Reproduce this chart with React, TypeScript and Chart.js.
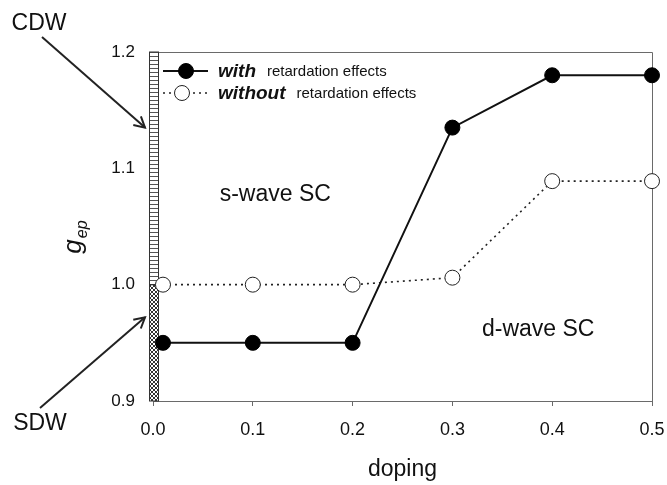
import React, { useEffect, useRef } from "react";
import { Chart, registerables } from "chart.js";
Chart.register(...registerables);

const doping = [0.01, 0.1, 0.2, 0.3, 0.4, 0.5];
const gWith = [0.95, 0.95, 0.95, 1.135, 1.18, 1.18];
const gWithout = [1.0, 1.0, 1.0, 1.006, 1.089, 1.089];
const xRange = [0, 0.5];
const yRange = [0.9, 1.2];
const seriesNames = ["with", "without"];
const seriesSuffix = "retardation effects";
const xTitle = "doping";
const yTitleMain = "g";
const yTitleSub = "ep";
const regionLabels = [
  { text: "s-wave SC", x: 0.1225, y: 1.077 },
  { text: "d-wave SC", x: 0.386, y: 0.961 },
];
const sdwBand = [0.9, 1.0];
const cdwBand = [1.0, 1.2];
const cdwTarget = 1.135;
const sdwTarget = 0.972;

const FONT = "'Liberation Sans', Arial, sans-serif";

function drawArrow(ctx: CanvasRenderingContext2D, x1: number, y1: number, x2: number, y2: number) {
  ctx.beginPath();
  ctx.moveTo(x1, y1);
  ctx.lineTo(x2, y2);
  ctx.stroke();
  const a = Math.atan2(y2 - y1, x2 - x1);
  const L = 12;
  const s = 0.5;
  ctx.beginPath();
  ctx.moveTo(x2 - L * Math.cos(a - s), y2 - L * Math.sin(a - s));
  ctx.lineTo(x2, y2);
  ctx.lineTo(x2 - L * Math.cos(a + s), y2 - L * Math.sin(a + s));
  ctx.stroke();
}

const decorPlugin = {
  id: "decor",
  beforeDatasetsDraw(chart: any) {
    const { ctx, chartArea } = chart;
    const ys = chart.scales.y;
    ctx.save();
    ctx.strokeStyle = "#6a6a6a";
    ctx.lineWidth = 1;
    ctx.beginPath();
    ctx.moveTo(chartArea.left, chartArea.top + 0.5);
    ctx.lineTo(chartArea.right + 0.5, chartArea.top + 0.5);
    ctx.lineTo(chartArea.right + 0.5, chartArea.bottom);
    ctx.stroke();

    const xA = chartArea.left;
    const bx = Math.round(xA - 4) + 0.5;
    const bw = 9;
    const yT = ys.getPixelForValue(cdwBand[1]);
    const yM = ys.getPixelForValue(cdwBand[0]);
    const yB = ys.getPixelForValue(sdwBand[0]);
    ctx.fillStyle = "#fff";
    ctx.fillRect(bx, yT, bw, yB - yT);
    ctx.strokeStyle = "#555";
    ctx.lineWidth = 1;
    ctx.beginPath();
    for (let y = Math.round(yT) + 0.5; y < yM; y += 4) {
      ctx.moveTo(bx, y);
      ctx.lineTo(bx + bw, y);
    }
    ctx.stroke();
    const p = document.createElement("canvas");
    p.width = 4;
    p.height = 4;
    const pc = p.getContext("2d")!;
    pc.fillStyle = "#fff";
    pc.fillRect(0, 0, 4, 4);
    pc.strokeStyle = "#333";
    pc.lineWidth = 1;
    pc.beginPath();
    pc.moveTo(0, 0);
    pc.lineTo(4, 4);
    pc.moveTo(4, 0);
    pc.lineTo(0, 4);
    pc.stroke();
    const pat = ctx.createPattern(p, "repeat");
    ctx.fillStyle = pat;
    ctx.fillRect(bx, yM, bw, yB - yM);
    ctx.strokeStyle = "#333";
    ctx.strokeRect(bx, yT, bw, yM - yT);
    ctx.strokeRect(bx, yM, bw, yB - yM);
    ctx.restore();
  },
  afterDatasetsDraw(chart: any) {
    const { ctx, chartArea } = chart;
    const xs = chart.scales.x;
    const ys = chart.scales.y;
    const ds = chart.data.datasets;
    ctx.save();
    ctx.fillStyle = "#111";
    const rows = [chartArea.top + 19, chartArea.top + 41];
    const markerX = [chartArea.left + 33, chartArea.left + 29];
    rows.forEach((ry: number, i: number) => {
      const d = ds[i];
      ctx.save();
      ctx.strokeStyle = d.borderColor;
      ctx.lineWidth = d.borderWidth;
      ctx.setLineDash(d.borderDash || []);
      ctx.beginPath();
      ctx.moveTo(chartArea.left + 10, ry);
      ctx.lineTo(chartArea.left + (i === 0 ? 55 : 58), ry);
      ctx.stroke();
      ctx.setLineDash([]);
      ctx.beginPath();
      ctx.arc(markerX[i], ry, d.pointRadius, 0, Math.PI * 2);
      ctx.fillStyle = d.pointBackgroundColor;
      ctx.fill();
      ctx.lineWidth = d.pointBorderWidth;
      ctx.strokeStyle = d.pointBorderColor;
      ctx.stroke();
      ctx.restore();
      ctx.fillStyle = "#111";
      ctx.textBaseline = "middle";
      ctx.textAlign = "left";
      ctx.font = `italic bold 19px ${FONT}`;
      const tx = chartArea.left + 65;
      ctx.fillText(seriesNames[i], tx, ry + 1);
      const w = ctx.measureText(seriesNames[i]).width;
      ctx.font = `15px ${FONT}`;
      ctx.fillText(seriesSuffix, tx + w + 11, ry + 1);
    });

    ctx.font = `23px ${FONT}`;
    ctx.textAlign = "center";
    ctx.textBaseline = "middle";
    regionLabels.forEach((r) => {
      ctx.fillText(r.text, xs.getPixelForValue(r.x), ys.getPixelForValue(r.y));
    });

    ctx.font = `23px ${FONT}`;
    ctx.fillText("CDW", 39, 24);
    ctx.fillText("SDW", 40, 424);
    ctx.strokeStyle = "#222";
    ctx.lineWidth = 2;
    drawArrow(ctx, 42, 37, chartArea.left - 8, ys.getPixelForValue(cdwTarget));
    drawArrow(ctx, 40, 408, chartArea.left - 8, ys.getPixelForValue(sdwTarget));

    ctx.save();
    ctx.translate(81, 237);
    ctx.rotate(-Math.PI / 2);
    ctx.textAlign = "left";
    ctx.textBaseline = "alphabetic";
    ctx.font = `italic 26px ${FONT}`;
    const wg = ctx.measureText(yTitleMain).width;
    ctx.font = `italic 16px ${FONT}`;
    const we = ctx.measureText(yTitleSub).width;
    const start = -(wg + we + 1) / 2;
    ctx.font = `italic 26px ${FONT}`;
    ctx.fillText(yTitleMain, start, 0);
    ctx.font = `italic 16px ${FONT}`;
    ctx.fillText(yTitleSub, start + wg + 1, 6);
    ctx.restore();

    ctx.font = `23px ${FONT}`;
    ctx.textAlign = "center";
    ctx.textBaseline = "middle";
    ctx.fillText(xTitle, (chartArea.left + chartArea.right) / 2, 470);
    ctx.restore();
  },
};

export default function App() {
  const ref = useRef<HTMLCanvasElement | null>(null);
  useEffect(() => {
    if (!ref.current) return;
    const chart = new Chart(ref.current, {
      type: "line",
      data: {
        datasets: [
          {
            label: seriesNames[0],
            data: doping.map((x, i) => ({ x, y: gWith[i] })),
            borderColor: "#111",
            borderWidth: 2,
            pointRadius: 7.5,
            pointBackgroundColor: "#000",
            pointBorderColor: "#000",
            pointBorderWidth: 1,
            tension: 0,
            clip: false,
          } as any,
          {
            label: seriesNames[1],
            data: doping.map((x, i) => ({ x, y: gWithout[i] })),
            borderColor: "#222",
            borderWidth: 1.6,
            borderDash: [2, 4],
            pointRadius: 7.5,
            pointBackgroundColor: "#fff",
            pointBorderColor: "#222",
            pointBorderWidth: 1,
            tension: 0,
            clip: false,
          } as any,
        ],
      },
      options: {
        animation: false,
        responsive: true,
        maintainAspectRatio: false,
        events: [],
        layout: { padding: { top: 52, right: 15, left: 0, bottom: 0 } },
        plugins: { legend: { display: false }, tooltip: { enabled: false }, title: { display: false } },
        scales: {
          x: {
            type: "linear",
            min: xRange[0],
            max: xRange[1],
            afterFit: (s: any) => {
              s.height = 84;
              s.paddingLeft = 0;
              s.paddingRight = 0;
            },
            ticks: {
              stepSize: 0.1,
              callback: (v: any) => Number(v).toFixed(1),
              font: { family: FONT, size: 18 },
              color: "#111",
              padding: 13,
              maxRotation: 0,
            },
            grid: { drawOnChartArea: false, drawTicks: true, tickLength: 5, color: "#6a6a6a" },
            border: { display: true, color: "#6a6a6a" },
          },
          y: {
            type: "linear",
            min: yRange[0],
            max: yRange[1],
            afterFit: (s: any) => {
              s.width = 153;
              s.paddingTop = 0;
              s.paddingBottom = 0;
            },
            ticks: {
              stepSize: 0.1,
              callback: (v: any) => Number(v).toFixed(1),
              font: { family: FONT, size: 17 },
              color: "#111",
              padding: 18,
            },
            grid: { display: false, drawTicks: false },
            border: { display: false },
          },
        },
      },
      plugins: [decorPlugin],
    });
    return () => chart.destroy();
  }, []);
  return (
    <div style={{ position: "fixed", left: 0, top: 0, width: 667, height: 485, background: "#fff" }}>
      <canvas ref={ref} />
    </div>
  );
}
